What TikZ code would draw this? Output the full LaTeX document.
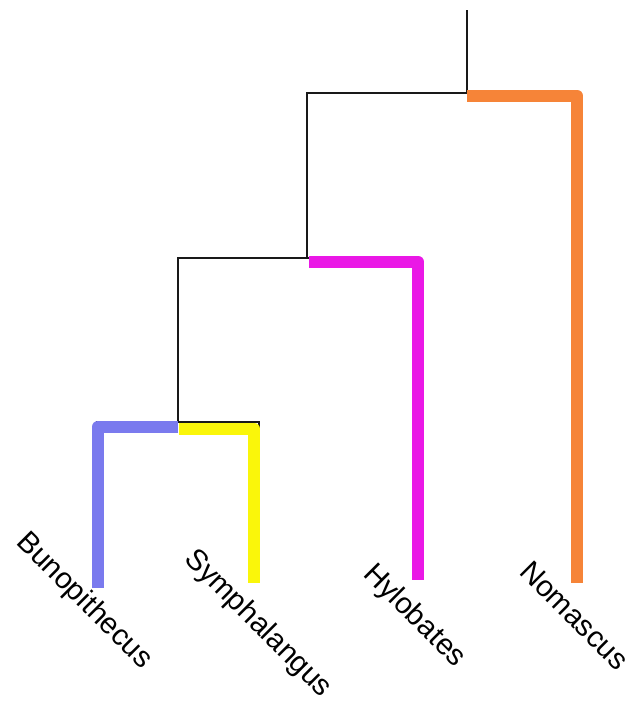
\documentclass[tikz,border=0pt]{standalone}
\usepackage{fontspec}
\setmainfont{Liberation Sans}
\usepackage{tikz}

\definecolor{bunoblue}{RGB}{122,122,238}
\definecolor{symyellow}{RGB}{250,246,10}
\definecolor{hylomagenta}{RGB}{234,24,230}
\definecolor{nomorange}{RGB}{246,132,56}

\begin{document}
\begin{tikzpicture}[
    x=0.02cm, y=-0.02cm,
    branch/.style={draw=black!90, line width=1.4pt},
    clade/.style={line width=7.2pt, line join=round},
    taxon/.style={
        anchor=base west,
        inner sep=0pt,
        rotate=-45,
        font=\fontsize{16.8}{20}\selectfont
    }
]
\useasboundingbox (0,0) rectangle (633,708);

% Tree joints
\coordinate (top) at (467,10);
\coordinate (root) at (467,93);
\coordinate (ga) at (307,258);
\coordinate (gb) at (178,422);

% Leaf tips
\coordinate (bun) at (97,588);
\coordinate (sym) at (259,583);
\coordinate (hyl) at (418,580);
\coordinate (nom) at (577,583);

% Black tree
\draw[branch] (top) -- (root);
\draw[branch] (root) -| (nom);
\draw[branch] (root) -| (ga);
\draw[branch] (ga) -| (hyl);
\draw[branch] (ga) -| (gb);
\draw[branch] (gb) -| (bun);
\draw[branch] (gb) -| (sym);

% Coloured clades
\draw[clade, nomorange] ([shift={(0,3)}]root) -| ([shift={(0,0)}]nom);
\draw[clade, hylomagenta] ([shift={(2,4)}]ga) -| ([shift={(0,0)}]hyl);
\draw[clade, bunoblue] ([shift={(0,5)}]gb) -| ([shift={(1,0)}]bun);
\draw[clade, symyellow] ([shift={(1,7)}]gb) -| ([shift={(-5,0)}]sym);

% Labels
\node[taxon] (lbun) at (15,543) {Bunopithecus};
\node[taxon] (lsym) at (183,560) {Symphalangus};
\node[taxon] (lhyl) at (362,575) {Hylobates};
\node[taxon] (lnom) at (518,573) {Nomascus};

\end{tikzpicture}
\end{document}
